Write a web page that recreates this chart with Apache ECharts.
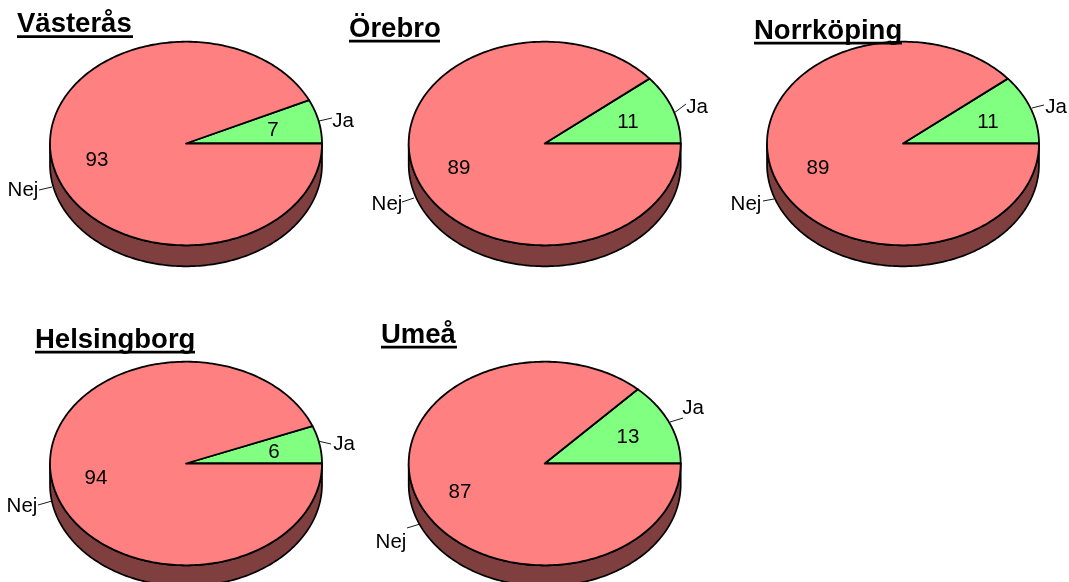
<!DOCTYPE html>
<html>
<head>
<meta charset="utf-8">
<style>html,body{margin:0;padding:0;background:#fff}#c{width:1069px;height:582px}</style>
<script src="https://cdn.jsdelivr.net/npm/echarts@6/dist/echarts.min.js"></script>
</head>
<body>
<div id="c"></div>
<script>
// ---- data ----
var cities = ['Västerås', 'Örebro', 'Norrköping', 'Helsingborg', 'Umeå'];
var sliceNames = ['Ja', 'Nej'];
var jaValues = [7, 11, 11, 6, 13];
var nejValues = [93, 89, 89, 94, 87];

// ---- layout ----
var RX = 136, RY = 101.8, DEPTH = 21;
var centers = [[186,143.5],[544.7,143.5],[903,143.5],[186,463.5],[544.7,463.5]];
var jaValuePos = [[273,130],[628,122],[988,122],[274,452],[628,437]];
var nejValuePos = [[97,160],[459,168],[818,168],[96,478],[460,492]];
var jaNamePos = [[343,121],[697,107],[1056,107],[344,444],[693,408]];
var nejNamePos = [[23,190],[387,204],[746,204],[22,506],[391,542]];
var jaLeaders = [[319,121,332,118],[674,113,686,104],[1032,108,1044,105],[318,441,331,444],[670,422,683,418]];
var nejLeaders = [[39,190,52,187],[402,202,414,198],[763,201,774,199],[38,505,52,501],[407,528,420,524]];
var titleBox = [[17,133,10,36.5],[349,440,15,41],[754,902,17,43],[35,195,326,352],[381,457,321,347]];

var FONT = '"Liberation Sans", Arial, sans-serif';
var FILL = ['#80ff80', '#ff8080'];
var WALL = '#7f3f3f';
var STROKE = '#000';

var rows = [];
cities.forEach(function (c, i) {
  rows.push([i, 0, jaValues[i]]);
  rows.push([i, 1, nejValues[i]]);
});

function pt(c, a, dy) {
  return [c[0] + RX * Math.cos(a), c[1] - RY * Math.sin(a) + (dy || 0)];
}
function arc(c, a0, a1, dy) {
  var n = Math.max(2, Math.ceil(Math.abs(a1 - a0) / 0.02)), out = [];
  for (var k = 0; k <= n; k++) out.push(pt(c, a0 + (a1 - a0) * k / n, dy));
  return out;
}
function renderItem(params, api) {
  var pie = api.value(0), slice = api.value(1), val = api.value(2);
  var total = jaValues[pie] + nejValues[pie];
  var before = slice === 0 ? 0 : jaValues[pie];
  var a0 = before / total * 2 * Math.PI;
  var a1 = (before + val) / total * 2 * Math.PI;
  var c = centers[pie];
  var children = [];

  // side wall: the front half of the rim lying inside this slice
  var w0 = Math.max(a0, Math.PI), w1 = Math.min(a1, 2 * Math.PI);
  if (w1 > w0) {
    children.push({
      type: 'polygon',
      shape: { points: arc(c, w0, w1, 0).concat(arc(c, w1, w0, DEPTH)) },
      style: { fill: WALL, stroke: STROKE, lineWidth: 1.7, lineJoin: 'round' }
    });
  }
  // top face
  children.push({
    type: 'polygon',
    shape: { points: [c].concat(arc(c, a0, a1, 0)) },
    style: { fill: FILL[slice], stroke: STROKE, lineWidth: 1.8, lineJoin: 'round' }
  });
  var vp = (slice === 0 ? jaValuePos : nejValuePos)[pie];
  var np = (slice === 0 ? jaNamePos : nejNamePos)[pie];
  var ld = (slice === 0 ? jaLeaders : nejLeaders)[pie];
  children.push({
    type: 'line',
    shape: { x1: ld[0], y1: ld[1], x2: ld[2], y2: ld[3] },
    style: { stroke: '#000', lineWidth: 0.9 }
  });
  children.push({
    type: 'text',
    style: { text: String(val), x: vp[0], y: vp[1], align: 'center', verticalAlign: 'middle', font: '20.5px ' + FONT, fill: '#000' }
  });
  children.push({
    type: 'text',
    style: { text: sliceNames[slice], x: np[0], y: np[1], align: 'center', verticalAlign: 'middle', font: '20.5px ' + FONT, fill: '#000' }
  });
  return { type: 'group', children: children };
}

var chart = echarts.init(document.getElementById('c'), null, { renderer: 'canvas' });
chart.setOption({
  animation: false,
  backgroundColor: '#fff',
  title: cities.map(function (name, i) {
    return {
      text: name, left: titleBox[i][0], top: titleBox[i][2], padding: 0, z: 20,
      textStyle: { fontFamily: FONT, fontSize: 27.5, fontWeight: 'bold', color: '#000' }
    };
  }),
  graphic: titleBox.map(function (b) {
    return {
      type: 'rect', z: 21, silent: true,
      shape: { x: b[0], y: b[3] - 1.2, width: b[1] - b[0], height: 2.6 },
      style: { fill: '#000' }
    };
  }),
  series: [{
    type: 'custom',
    coordinateSystem: 'none',
    silent: true,
    clip: false,
    data: rows,
    renderItem: renderItem
  }]
});
</script>
</body>
</html>
